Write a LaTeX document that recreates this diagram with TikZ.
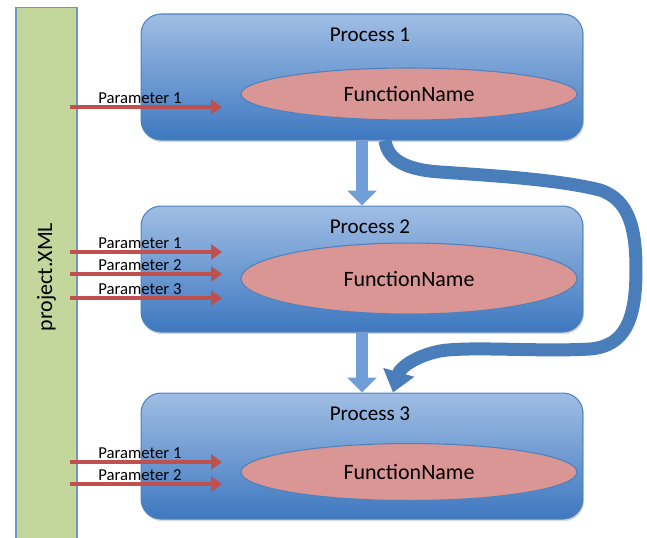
\documentclass[tikz,border=0pt]{standalone}
\usepackage{fontspec}
\setmainfont{Carlito}
\usetikzlibrary{shapes,positioning,arrows.meta,shadows}

\definecolor{boxtop}{RGB}{160,190,228}
\definecolor{boxmid}{RGB}{128,166,216}
\definecolor{boxbot}{RGB}{62,120,192}
\definecolor{boxline}{RGB}{79,129,189}
\definecolor{funcfill}{RGB}{217,150,148}
\definecolor{funcline}{RGB}{79,129,189}
\definecolor{paramred}{RGB}{192,80,77}
\definecolor{xmlgreen}{RGB}{195,214,155}
\definecolor{xmlline}{RGB}{110,150,200}
\definecolor{flowblue}{RGB}{112,158,214}
\definecolor{loopblue}{RGB}{74,126,187}

\begin{document}
\begin{tikzpicture}
            [
            x=0.02cm, y=-0.02cm,
            process/.style={rectangle, rounded corners=0.4cm, draw=boxline,
                line width=0.6pt, minimum width=8.84cm, minimum height=2.52cm,
                top color=boxtop, middle color=boxmid, bottom color=boxbot,
                drop shadow={shadow xshift=0.6pt, shadow yshift=-1.2pt, opacity=0.3}},
            func/.style={ellipse, draw=funcline, line width=0.6pt, fill=funcfill,
                minimum width=6.72cm, font=\fontsize{12.5}{15}\selectfont},
            title/.style={font=\fontsize{12}{14}\selectfont},
            xmlbar/.style={draw=xmlline, fill=xmlgreen, line width=0.6pt,
                minimum width=10.8cm, minimum height=1.22cm, rotate=90,
                font=\fontsize{12.5}{15}\selectfont},
            param/.style={draw=paramred, line width=2.2pt,
                -{Triangle[width=0.3cm, length=0.22cm]}},
            plabel/.style={font=\fontsize{9.5}{11}\selectfont, inner sep=1pt},
            flow/.style={draw=flowblue, line width=0.24cm,
                -{Triangle[width=0.58cm, length=0.3cm]}},
            loop arrow/.style={draw=loopblue, line width=0.26cm,
                -{Triangle[width=0.62cm, length=0.42cm]}}
            ]

            \useasboundingbox (0,0) rectangle (647,538);

            % Config file
            \node (xml) [xmlbar] at (46.5,277) {project.XML};

            % Processes
            \node (p1) [process] at (362,77) {};
            \node (p2) [process, below=1.3cm of p1] {};
            \node (p3) [process, below=1.2cm of p2] {};

            \foreach \i in {1,2,3}{
                \node (t\i) [title] at ([xshift=0.16cm, yshift=-0.42cm]p\i.north) {Process \i};
            }

            \node (f1) [func, minimum height=1.04cm] at ([xshift=0.94cm, yshift=-0.34cm]p1.center) {FunctionName};
            \node (f2) [func, minimum height=1.42cm] at ([xshift=0.94cm, yshift=-0.19cm]p2.center) {FunctionName};
            \node (f3) [func, minimum height=1.14cm] at ([xshift=0.94cm, yshift=-0.32cm]p3.center) {FunctionName};

            % Parameters read from the file
            \foreach \y/\t [count=\n] in {107/Parameter 1, 252/Parameter 1, 274/Parameter 2,
                    298/Parameter 3, 462/Parameter 1, 484/Parameter 2}{
                \coordinate (pin\n) at (70,\y);
                \coordinate (pout\n) at (222,\y);
                \draw [param] (pin\n) -- node [plabel, above=0pt, pos=0.46] {\t} (pout\n);
            }

            % Flow between processes
            \draw [flow] (p1.south) -- (p2.north);
            \draw [flow] (p2.south) -- (p3.north);

            \draw [loop arrow] ([xshift=0.46cm]p1.south)
                .. controls (388,162) and (410,170) .. (440,172)
                .. controls (500,176) and (560,180) .. (600,190)
                .. controls (630,200) and (636,230) .. (636,270)
                .. controls (636,320) and (625,346) .. (590,349)
                .. controls (540,352) and (470,346) .. (440,351)
                .. controls (415,356) and (400,368) .. ([xshift=0.62cm]p3.north);

        \end{tikzpicture}
\end{document}
